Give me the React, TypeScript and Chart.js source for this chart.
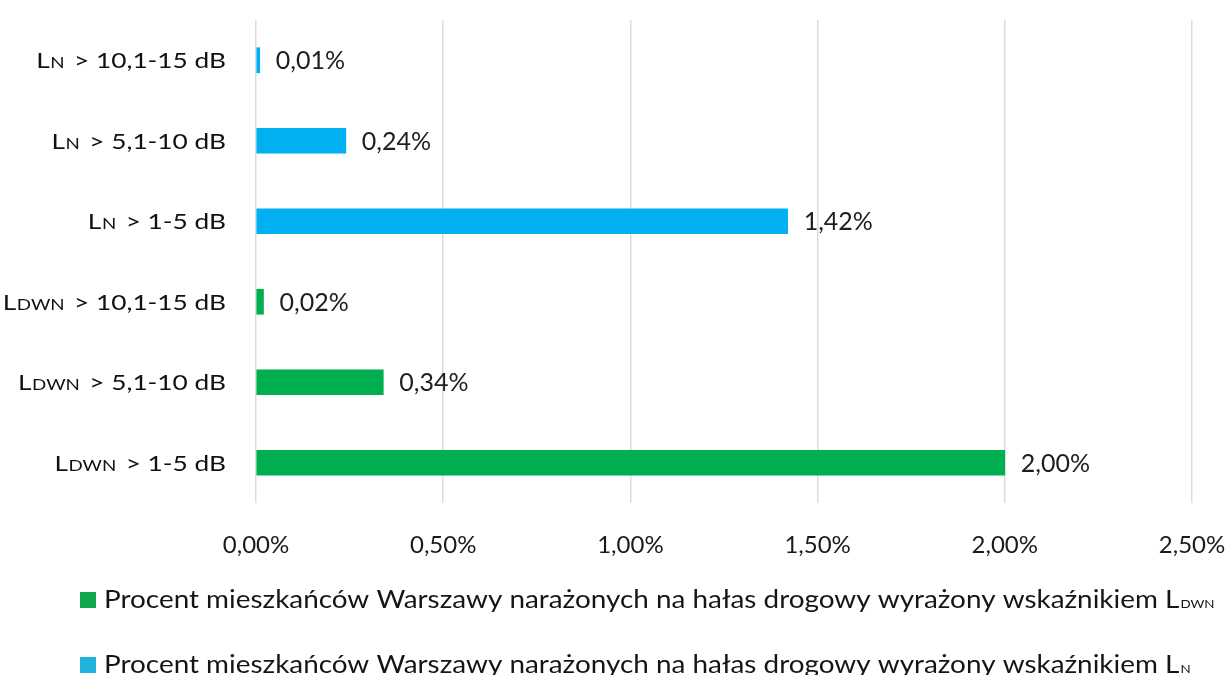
import React, { useEffect, useRef } from 'react';
import { Chart, registerables } from 'chart.js';

Chart.register(...registerables);

// ---- data ----
const categorySubs = ['N', 'N', 'N', 'DWN', 'DWN', 'DWN'];
const categoryRanges = ['> 10,1-15 dB', '> 5,1-10 dB', '> 1-5 dB', '> 10,1-15 dB', '> 5,1-10 dB', '> 1-5 dB'];
const categories = categoryRanges.map((r, i) => 'L' + categorySubs[i] + ' ' + r);
const ldwnValues: (number | null)[] = [null, null, null, 0.02, 0.34, 2.0];
const lnValues: (number | null)[] = [0.01, 0.24, 1.42, null, null, null];
const seriesNames = [
  'Procent mieszkańców Warszawy narażonych na hałas drogowy wyrażony wskaźnikiem L',
  'Procent mieszkańców Warszawy narażonych na hałas drogowy wyrażony wskaźnikiem L',
];
const seriesSubs = ['DWN', 'N'];
const seriesColors = ['#00B050', '#00B0F0'];
const legendColors = ['#12A84F', '#22B3DC'];
const xMin = 0;
const xMax = 2.5;
const xStep = 0.5;

const FONT = 'Lato, Carlito, Calibri, sans-serif';
const fmtPct = (v: number) => v.toFixed(2).replace('.', ',') + '%';

export default function App() {
  const ref = useRef<HTMLCanvasElement | null>(null);

  useEffect(() => {
    const canvas = ref.current;
    if (!canvas) return;

    const customPlugin = {
      id: 'custom',
      afterDraw(chart: any) {
        const ctx = chart.ctx as CanvasRenderingContext2D;
        const yScale = chart.scales.y;
        // y labels with subscripts
        const sx = 1.25;
        const gap = 8;
        categories.forEach((_, i) => {
          const y = yScale.getPixelForValue(i);
          const base = y + 8;
          ctx.save();
          ctx.font = `21px ${FONT}`;
          const wL = ctx.measureText('L').width;
          const wR = ctx.measureText(categoryRanges[i]).width;
          ctx.font = `15px ${FONT}`;
          const wS = ctx.measureText(categorySubs[i]).width;
          const total = (wL + wS + gap + wR) * sx;
          const x0 = 226 - total;
          ctx.translate(x0, base);
          ctx.scale(sx, 1);
          ctx.fillStyle = '#111';
          ctx.textBaseline = 'alphabetic';
          ctx.textAlign = 'left';
          ctx.font = `21px ${FONT}`;
          ctx.fillText('L', 0, 0);
          ctx.font = `15px ${FONT}`;
          ctx.fillText(categorySubs[i], wL + 0.5, 0);
          ctx.font = `21px ${FONT}`;
          ctx.fillText(categoryRanges[i], wL + wS + gap, 0);
          ctx.restore();
        });

        // data labels
        ctx.save();
        ctx.font = `25px ${FONT}`;
        ctx.fillStyle = '#1e1e1e';
        ctx.textAlign = 'left';
        ctx.textBaseline = 'middle';
        chart.data.datasets.forEach((ds: any, di: number) => {
          const meta = chart.getDatasetMeta(di);
          meta.data.forEach((el: any, idx: number) => {
            const v = ds.data[idx];
            if (v === null || v === undefined) return;
            ctx.fillText(fmtPct(v), el.x + 16, el.y + 1);
          });
        });
        ctx.restore();

        // legend
        const rows = [608, 673];
        const lsx = 1.115;
        seriesNames.forEach((name, i) => {
          const b = rows[i];
          ctx.save();
          ctx.fillStyle = legendColors[i];
          ctx.fillRect(80, b - 16, 16, 16);
          ctx.translate(104, b);
          ctx.scale(lsx, 1);
          ctx.fillStyle = '#151515';
          ctx.textAlign = 'left';
          ctx.textBaseline = 'alphabetic';
          ctx.font = `25px ${FONT}`;
          ctx.fillText(name, 0, 0);
          const w = ctx.measureText(name).width;
          ctx.font = `12px ${FONT}`;
          ctx.fillText(seriesSubs[i], w + 1, 0);
          ctx.restore();
        });
      },
    };

    const chart = new Chart(canvas, {
      type: 'bar',
      data: {
        labels: categories,
        datasets: [
          {
            label: seriesNames[0] + seriesSubs[0],
            data: ldwnValues,
            backgroundColor: seriesColors[0],
            barThickness: 25,
            grouped: false,
          } as any,
          {
            label: seriesNames[1] + seriesSubs[1],
            data: lnValues,
            backgroundColor: seriesColors[1],
            barThickness: 25,
            grouped: false,
          } as any,
        ],
      },
      options: {
        indexAxis: 'y',
        animation: false,
        responsive: false,
        maintainAspectRatio: false,
        layout: { padding: { top: 20, right: 39, bottom: 112, left: 0 } },
        plugins: {
          legend: { display: false },
          tooltip: { enabled: false },
        },
        scales: {
          x: {
            min: xMin,
            max: xMax,
            border: { display: false },
            grid: { color: '#dcdcdc', lineWidth: 1.5, drawTicks: false },
            ticks: {
              stepSize: xStep,
              padding: 28,
              color: '#1a1a1a',
              font: { family: FONT, size: 24 },
              callback: (v: any) => fmtPct(Number(v)),
            },
            afterFit: (s: any) => {
              s.height = 60;
              s.paddingLeft = 0;
              s.paddingRight = 0;
            },
          },
          y: {
            border: { display: false },
            grid: { display: false },
            ticks: { display: false },
            afterFit: (s: any) => {
              s.width = 256;
            },
          },
        },
      },
      plugins: [customPlugin],
    });

    return () => chart.destroy();
  }, []);

  return (
    <div style={{ position: 'fixed', left: 0, top: 0, width: 1231, height: 675, background: '#fff' }}>
      <canvas ref={ref} width={1231} height={675} style={{ width: 1231, height: 675, display: 'block' }} />
    </div>
  );
}
